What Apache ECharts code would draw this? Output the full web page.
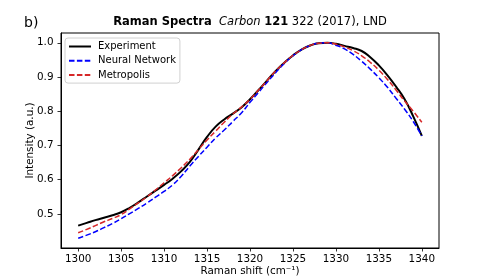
<!DOCTYPE html>
<html><head><meta charset="utf-8">
<script src="https://cdn.jsdelivr.net/npm/echarts@6/dist/echarts.min.js"></script>
<style>html,body{margin:0;padding:0;background:#fff}#c{width:488px;height:279px}</style>
</head><body><div id="c"></div>
<script>
const shifts = [1300,1301,1302,1303,1304,1305,1306,1307,1308,1309,1310,1311,1312,1313,1314,1315,1316,1317,1318,1319,1320,1321,1322,1323,1324,1325,1326,1327,1328,1329,1330,1331,1332,1333,1334,1335,1336,1337,1338,1339,1340];
const experiment = [0.466,0.474,0.482,0.489,0.496,0.505,0.518,0.534,0.551,0.568,0.585,0.603,0.625,0.652,0.688,0.725,0.755,0.776,0.793,0.811,0.835,0.862,0.890,0.918,0.942,0.963,0.980,0.992,0.999,1.000,0.997,0.991,0.985,0.976,0.958,0.934,0.905,0.872,0.835,0.785,0.728];
const neuralNetwork = [0.429,0.438,0.448,0.460,0.472,0.486,0.501,0.516,0.532,0.549,0.566,0.585,0.610,0.640,0.668,0.695,0.722,0.745,0.770,0.795,0.826,0.855,0.885,0.913,0.940,0.962,0.980,0.992,0.999,1.000,0.993,0.982,0.966,0.946,0.923,0.898,0.870,0.838,0.806,0.770,0.728];
const metropolis = [0.445,0.455,0.466,0.477,0.487,0.498,0.515,0.532,0.550,0.570,0.591,0.612,0.635,0.660,0.688,0.716,0.742,0.768,0.792,0.812,0.835,0.862,0.890,0.918,0.942,0.963,0.980,0.992,0.999,1.000,0.996,0.988,0.977,0.962,0.943,0.920,0.893,0.862,0.830,0.800,0.768];
const xTicks = [1300,1305,1310,1315,1320,1325,1330,1335,1340];
const yTicks = [0.5,0.6,0.7,0.8,0.9,1.0];

const pair = a => shifts.map((x,i)=>[x,a[i]]);
const F = 'DejaVu Sans';
const chart = echarts.init(document.getElementById('c'), null, {renderer:'canvas'});
chart.setOption({
  animation:false,
  backgroundColor:'#fff',
  textStyle:{fontFamily:F},
  graphic:[{type:'text',left:24,top:16,style:{text:'b)',font:'14px "DejaVu Sans"',fill:'#000'}}],
  title:{
    left:250, top:16, textAlign:'center', padding:0,
    text:'{b|Raman Spectra}  {i|Carbon} {b|121} {n|322 (2017), LND}',
    textStyle:{fontWeight:'normal',fontSize:11.5,rich:{
      b:{fontFamily:F,fontWeight:'bold',fontSize:11.5,color:'#000'},
      i:{fontFamily:F,fontStyle:'italic',fontWeight:'normal',fontSize:11.5,color:'#000'},
      n:{fontFamily:F,fontWeight:'normal',fontSize:11.5,color:'#000'}
    }}
  },
  grid:{left:61,right:49,top:33,bottom:31,containLabel:false,outerBoundsMode:'none',show:true,borderColor:'#000',borderWidth:1,backgroundColor:'transparent'},
  legend:{
    orient:'vertical', left:65, top:38,
    backgroundColor:'#fff', borderColor:'#d0d0d0', borderWidth:1, borderRadius:3,
    padding:[3.5,4,3,3], itemWidth:22, itemHeight:10, itemGap:4.3,
    itemStyle:{opacity:0},
    textStyle:{fontFamily:F,fontSize:10,color:'#000',padding:[0,0,0,2]},
    data:['Experiment','Neural Network','Metropolis']
  },
  xAxis:{
    type:'value', min:1298, max:1342,
    name:'Raman shift (cm\u207B\u00B9)', nameLocation:'middle', nameGap:18, nameMoveOverlap:false,
    nameTextStyle:{fontFamily:F,fontSize:10.4,color:'#000'},
    axisLine:{show:true,lineStyle:{color:'#000',width:1}},
    axisTick:{show:true,inside:false,length:3.5,lineStyle:{color:'#000',width:0.8},customValues:xTicks},
    axisLabel:{margin:6,fontFamily:F,fontSize:10.4,color:'#000',customValues:xTicks,formatter:v=>String(v)},
    splitLine:{show:false}
  },
  yAxis:{
    type:'value', min:0.4005, max:1.0286,
    name:'Intensity (a.u.)', nameLocation:'middle', nameGap:26, nameRotate:90, nameMoveOverlap:false,
    nameTextStyle:{fontFamily:F,fontSize:10.4,color:'#000'},
    axisLine:{show:true,lineStyle:{color:'#000',width:1}},
    axisTick:{show:true,inside:false,length:3.5,lineStyle:{color:'#000',width:0.8},customValues:yTicks},
    axisLabel:{margin:7.5,fontFamily:F,fontSize:10.4,color:'#000',customValues:yTicks,formatter:v=>v.toFixed(1)},
    splitLine:{show:false}
  },
  series:[
    {name:'Experiment',type:'line',data:pair(experiment),smooth:0.5,showSymbol:false,symbol:'none',
     lineStyle:{color:'#000',width:2},itemStyle:{color:'#000'},z:3},
    {name:'Neural Network',type:'line',data:pair(neuralNetwork),smooth:0.5,showSymbol:false,symbol:'none',
     lineStyle:{color:'#0000ff',width:1.5,type:[5.5,2.4]},itemStyle:{color:'#0000ff'},z:4},
    {name:'Metropolis',type:'line',data:pair(metropolis),smooth:0.5,showSymbol:false,symbol:'none',
     lineStyle:{color:'#d62728',width:1.5,type:[5.5,2.4]},itemStyle:{color:'#d62728'},z:5}
  ]
});
</script></body></html>
